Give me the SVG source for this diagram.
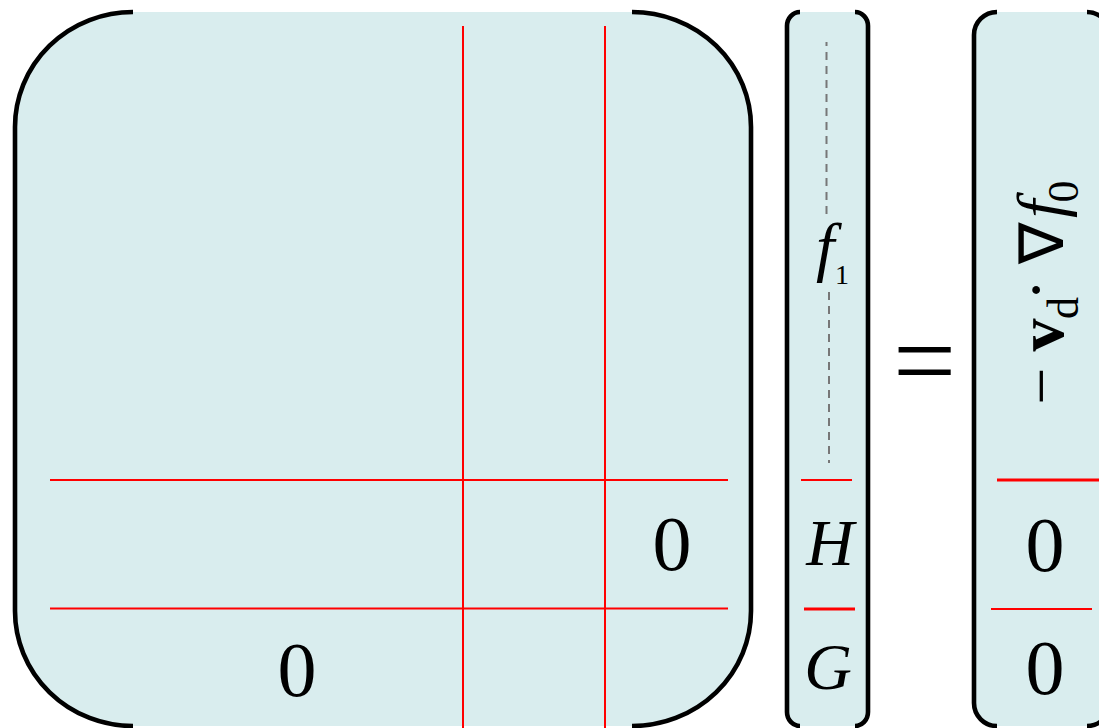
<svg xmlns="http://www.w3.org/2000/svg" width="1099" height="728" viewBox="0 0 1099 728">
<style>
.fill{fill:#d9edee;stroke:none}
.br{fill:none;stroke:#000;stroke-width:4.6;stroke-linecap:butt}
.red{stroke:#ff0000;stroke-width:2;fill:none}
.red3{stroke:#ff0000;stroke-width:2.8;fill:none}
.dash{stroke:#777;stroke-width:2;stroke-dasharray:8 6;fill:none}
.m{font-family:"Liberation Serif","Times New Roman",serif;fill:#000}
.i{font-style:italic}
.b{font-weight:bold}
</style>
<rect width="1099" height="728" fill="#fff"/>
<g id="matrix">
<rect class="fill" x="15" y="12" width="736" height="714" rx="117" ry="115"/>
<path class="br" d="M133,12 A118,115 0 0 0 15,127 L15,611 A118,115 0 0 0 133,726"/>
<path class="br" d="M632,12 A119,115 0 0 1 751,127 L751,611 A119,115 0 0 1 632,726"/>
<line class="red" x1="463" y1="26" x2="463" y2="728"/>
<line class="red" x1="605" y1="26" x2="605" y2="728"/>
<line class="red" x1="50" y1="480" x2="728" y2="480"/>
<line class="red" x1="50" y1="608.5" x2="728" y2="608.5"/>
<text class="m" x="672" y="570" font-size="78" text-anchor="middle">0</text>
<text class="m" x="297" y="696" font-size="78" text-anchor="middle">0</text>
</g>
<g id="vector-f">
<rect class="fill" x="787" y="12" width="81" height="714" rx="14" ry="14"/>
<path class="br" d="M800,12 A13,14 0 0 0 787,26 L787,712 A13,14 0 0 0 800,726"/>
<path class="br" d="M855,12 A13,14 0 0 1 868,26 L868,712 A13,14 0 0 1 855,726"/>
<line class="dash" x1="826.5" y1="42" x2="826.5" y2="214" stroke-dashoffset="4"/>
<line class="dash" x1="829" y1="292" x2="829" y2="463"/>
<line class="red" x1="801" y1="480" x2="852" y2="480"/>
<line class="red3" x1="804" y1="609" x2="855" y2="609"/>
<text class="m i" x="816" y="269" font-size="66">f</text>
<text class="m" x="835" y="284" font-size="28">1</text>
<text class="m i" x="830" y="565" font-size="66" text-anchor="middle">H</text>
<text class="m i" x="828" y="689" font-size="66" text-anchor="middle">G</text>
</g>
<g id="equals">
<text class="m" x="924.5" y="398" font-size="112" text-anchor="middle">=</text>
</g>
<g id="vector-rhs">
<rect class="fill" x="974" y="12" width="140" height="714" rx="23" ry="23"/>
<path class="br" d="M997,12 A23,23 0 0 0 974,35 L974,703 A23,23 0 0 0 997,726"/>
<path class="br" d="M1087,12 A23,23 0 0 1 1110,35 L1110,703 A23,23 0 0 1 1087,726"/>
<line class="red3" x1="997" y1="480" x2="1099" y2="480"/>
<line class="red" x1="991" y1="609" x2="1092" y2="609"/>
<g transform="translate(1063,405) rotate(-90)">
<text class="m" x="19" y="0" font-size="66" text-anchor="middle">−</text>
<text class="m b" x="70" y="0" font-size="66" text-anchor="middle">v</text>
<text class="m" x="97" y="15" font-size="44" text-anchor="middle">d</text>
<text class="m" x="115" y="-5" font-size="66" text-anchor="middle">·</text>
<text class="m" x="162" y="0" font-size="62" text-anchor="middle">∇</text>
<text class="m i" x="187" y="0" font-size="66">f</text>
<text class="m" x="213.5" y="15" font-size="44" text-anchor="middle">0</text>
</g>
<text class="m" x="1045" y="571" font-size="78" text-anchor="middle">0</text>
<text class="m" x="1045" y="694" font-size="78" text-anchor="middle">0</text>
</g>
</svg>
